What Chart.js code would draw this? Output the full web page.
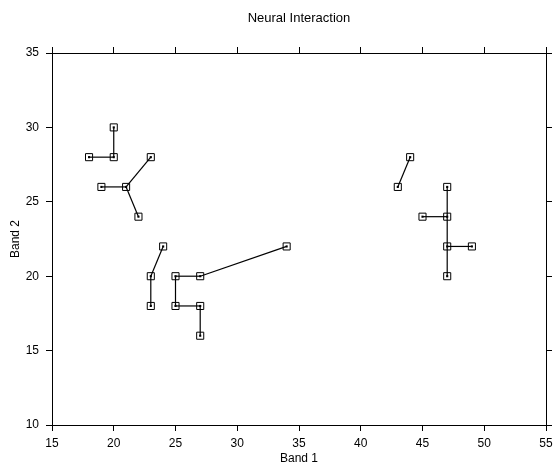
<!DOCTYPE html>
<html><head><meta charset="utf-8">
<script src="https://cdn.jsdelivr.net/npm/chart.js@4/dist/chart.umd.min.js"></script>
<style>html,body{margin:0;padding:0;background:#fff}</style>
</head><body>
<canvas id="c" width="553" height="466"></canvas>
<script>
// Edges: start (x1,y1) -> end (x2,y2)
const edgeX1 = [20, 18, 23, 19, 21, 24, 23, 25, 27, 25, 25, 27, 44, 47, 45, 47, 47, 47];
const edgeY1 = [30, 28, 28, 26, 26, 22, 20, 20, 20, 20, 18, 18, 28, 26, 24, 24, 22, 22];
const edgeX2 = [20, 20, 21, 21, 22, 23, 23, 27, 34, 25, 27, 27, 43, 47, 47, 47, 49, 47];
const edgeY2 = [28, 28, 26, 26, 24, 20, 18, 20, 22, 18, 18, 16, 26, 24, 24, 22, 22, 20];
const xTicks = [15, 20, 25, 30, 35, 40, 45, 50, 55];
const yTicks = [10, 15, 20, 25, 30, 35];
const titleText = 'Neural Interaction';
const xLabel = 'Band 1';
const yLabel = 'Band 2';

const FONT = 'Liberation Sans, Arial, Helvetica, sans-serif';
const datasets = [];
const seen = {}; const nodes = [];
for (let i = 0; i < edgeX1.length; i++) {
  [[edgeX1[i], edgeY1[i]], [edgeX2[i], edgeY2[i]]].forEach(p => {
    const k = p[0] + ',' + p[1];
    if (!seen[k]) { seen[k] = 1; nodes.push({x: p[0], y: p[1]}); }
  });
}
datasets.push({data: nodes, showLine: false, pointStyle: 'rect', pointRadius: 5,
  borderColor: '#000', borderWidth: 1, backgroundColor: 'rgba(0,0,0,0)', order: 2});
datasets.push({data: nodes, showLine: false, pointStyle: 'rect', pointRadius: 1.5,
  borderColor: '#000', borderWidth: 0, backgroundColor: '#000', order: 1});
for (let i = 0; i < edgeX1.length; i++) {
  datasets.push({
    data: [{x: edgeX1[i], y: edgeY1[i]}, {x: edgeX2[i], y: edgeY2[i]}],
    showLine: true, borderColor: '#000', borderWidth: 1.2,
    pointRadius: 0, pointHoverRadius: 0, order: 0
  });
}

function axis(pos, ticksArr, showLabels, size, extra) {
  const horiz = pos === 'top' || pos === 'bottom';
  return Object.assign({
    type: 'linear', position: pos,
    min: ticksArr[0], max: ticksArr[ticksArr.length - 1],
    afterBuildTicks: s => { s.ticks = ticksArr.map(v => ({value: v})); },
    afterFit: s => {
      if (horiz) { s.height = size; s.paddingLeft = 0; s.paddingRight = 0; }
      else { s.width = size; s.paddingTop = 0; s.paddingBottom = 0; }
    },
    grid: {drawOnChartArea: false, drawTicks: true, tickLength: 6, color: '#000', lineWidth: 1},
    border: {display: true, color: '#000', width: 1},
    ticks: {display: showLabels, color: '#000', font: {family: FONT, size: 12}, padding: horiz ? 5 : 7}
  }, extra || {});
}

new Chart(document.getElementById('c'), {
  type: 'scatter',
  data: {datasets},
  options: {
    responsive: false, animation: false, devicePixelRatio: 1,
    layout: {padding: 0},
    plugins: {
      legend: {display: false}, tooltip: {enabled: false},
      title: {display: true, fullSize: false, text: titleText, color: '#000',
        font: {family: FONT, size: 13, weight: 'normal', lineHeight: '14px'},
        padding: {top: 11, bottom: 0}}
    },
    scales: {
      x: axis('bottom', xTicks, true, 41, {title: {display: true, text: xLabel, color: '#000', font: {family: FONT, size: 12}, padding: {top: 0, bottom: 0}}}),
      y: axis('left', yTicks, true, 52, {title: {display: true, text: yLabel, color: '#000', font: {family: FONT, size: 12}, padding: {top: 8, bottom: 0}}}),
      x2: axis('top', xTicks, false, 28),
      y2: axis('right', yTicks, false, 7)
    }
  }
});
</script>
</body></html>
